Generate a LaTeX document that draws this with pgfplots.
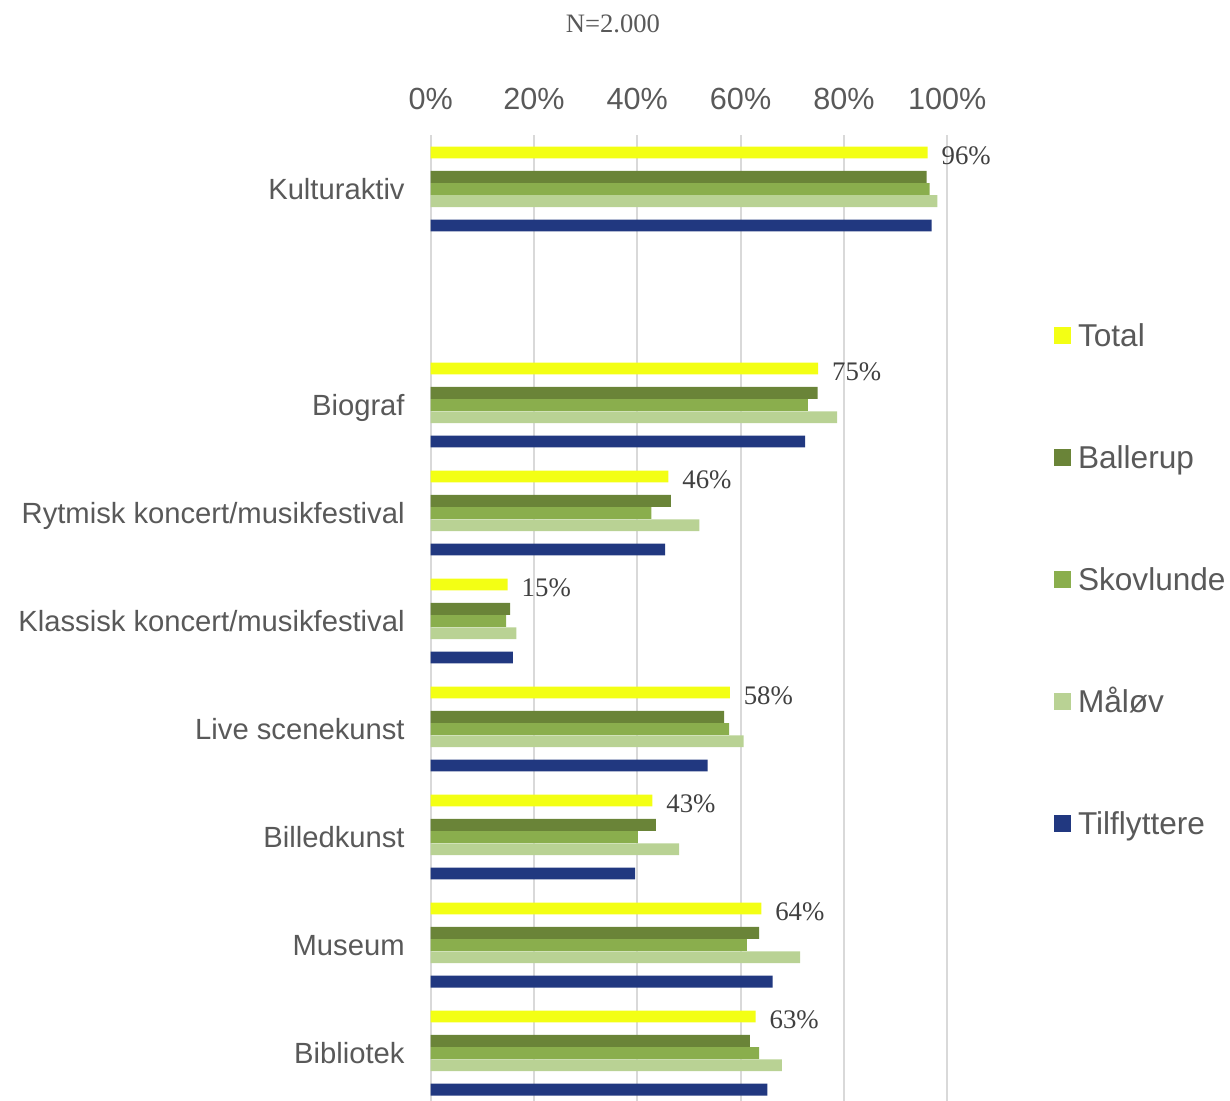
\documentclass[border=0pt]{standalone}
\usepackage{fontspec}
\setmainfont{Liberation Sans}
\newfontfamily\serif{Liberation Serif}
\usepackage{pgfplots}
\pgfplotsset{compat=1.18}

\definecolor{cTotal}{HTML}{F3FF14}
\definecolor{cBallerup}{HTML}{6A8438}
\definecolor{cSkovlunde}{HTML}{8AAE4D}
\definecolor{cMaalov}{HTML}{B9D294}
\definecolor{cTilfl}{HTML}{213880}
\definecolor{textgray}{HTML}{595959}
\definecolor{labelgray}{HTML}{404040}
\definecolor{gridgray}{HTML}{D9D9D9}

\begin{document}
\begin{tikzpicture}
\begin{axis}[
    at={(215.35pt,-67.5pt)}, anchor=north west,
    scale only axis,
    width=258.25pt, height=483pt,
    xbar, bar width=0.11,
    xmin=0, xmax=100,
    ymin=-0.5, ymax=8.444,
    y dir=reverse,
    /pgf/number format/assume math mode=true,
    xtick={0,20,...,100},
    xticklabel pos=upper,
    xticklabel={\pgfmathprintnumber{\tick}\%},
    xticklabel style={anchor=base, inner sep=0pt, yshift=13pt,
        font=\fontsize{15.3}{18}\selectfont, text=textgray},
    ytick={0,2,3,4,5,6,7,8},
    yticklabels={Kulturaktiv, Biograf, Rytmisk koncert/musikfestival,
        Klassisk koncert/musikfestival, Live scenekunst, Billedkunst,
        Museum, Bibliotek},
    yticklabel style={anchor=base east, inner sep=0pt, xshift=-12.85pt, yshift=-5.2pt,
        font=\fontsize{14.6}{17}\selectfont, text=textgray},
    major tick length=0pt,
    axis line style={draw=none},
    xmajorgrids,
    major grid style={draw=gridgray, line width=1pt},
    legend cell align=left,
    legend style={at={(1.2068,0.5399)}, anchor=west, draw=none, fill=none,
        inner sep=0pt, outer sep=0pt, row sep=49.7pt, column sep=3.5pt,
        font=\fontsize{15.8}{18}\selectfont, text=textgray,
        nodes={inner sep=0pt, text height=11.3pt, text depth=0pt}},
    legend image code/.code={\fill[#1] (0pt,-4.1pt) rectangle (8.5pt,4.1pt);},
]
% Total
\addplot[fill=cTotal, draw=none, bar shift=-0.338,
    nodes near coords={\pgfmathprintnumber[fixed,precision=0]{\pgfplotspointmeta}\%},
    nodes near coords style={anchor=west, xshift=3.5pt, yshift=-1.5pt, text=labelgray,
        font=\serif\fontsize{13.4}{16}\selectfont}]
    coordinates {(96.2,0) (75.0,2) (46.0,3) (14.9,4) (57.9,5) (42.9,6) (64.0,7) (62.9,8)};
% Ballerup
\addplot[fill=cBallerup, draw=none, bar shift=-0.1127]
    coordinates {(96.0,0) (74.9,2) (46.5,3) (15.4,4) (56.8,5) (43.6,6) (63.6,7) (61.8,8)};
% Skovlunde
\addplot[fill=cSkovlunde, draw=none, bar shift=0]
    coordinates {(96.6,0) (73.0,2) (42.7,3) (14.6,4) (57.8,5) (40.1,6) (61.2,7) (63.6,8)};
% Måløv
\addplot[fill=cMaalov, draw=none, bar shift=0.1127]
    coordinates {(98.1,0) (78.7,2) (52.0,3) (16.6,4) (60.6,5) (48.1,6) (71.5,7) (68.0,8)};
% Tilflyttere
\addplot[fill=cTilfl, draw=none, bar shift=0.338]
    coordinates {(97.0,0) (72.5,2) (45.4,3) (15.9,4) (53.6,5) (39.6,6) (66.2,7) (65.2,8)};
\legend{Total, Ballerup, Skovlunde, Måløv, Tilflyttere}
\end{axis}
\node[font=\serif\fontsize{13.3}{16}\selectfont, text=textgray] at (306.5pt,-12pt) {N=2.000};
\pgfresetboundingbox
\path (0pt,0pt) rectangle (615pt,-550.5pt);
\end{tikzpicture}
\end{document}
